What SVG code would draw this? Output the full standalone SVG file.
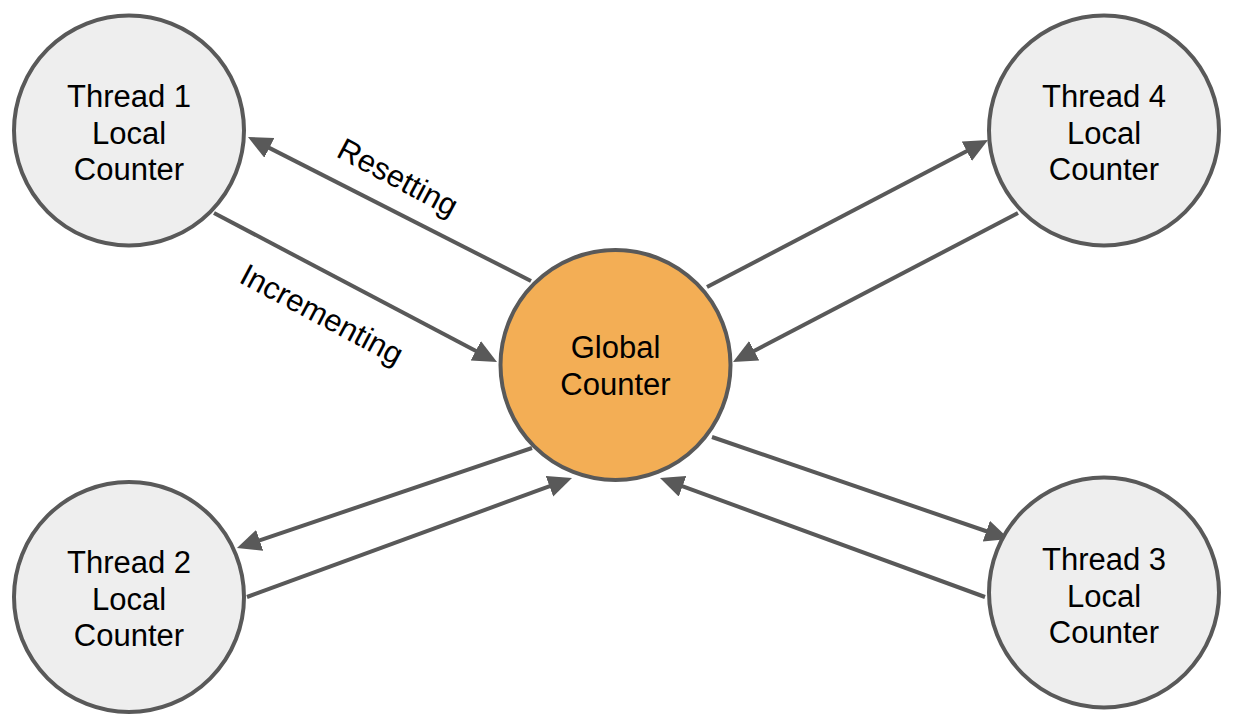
<svg xmlns="http://www.w3.org/2000/svg" width="1239" height="728" viewBox="0 0 1239 728">
  <style>
    .node { stroke: #595959; stroke-width: 4; }
    .local { fill: #eeeeee; }
    .global { fill: #f3ae55; }
    .txt { font-family: "Liberation Sans", Arial, sans-serif; font-size: 31px; fill: #000000; text-anchor: middle; }
    .edge { stroke: #595959; stroke-width: 4; fill: none; marker-end: url(#arrow); }
  </style>
  <defs>
    <marker id="arrow" markerUnits="userSpaceOnUse" markerWidth="26" markerHeight="24" refX="4" refY="11" orient="auto">
      <path d="M0,0 L24,11 L0,22 z" fill="#595959"/>
    </marker>
  </defs>
  <rect width="1239" height="728" fill="#ffffff"/>

  <g id="connectors">
    <line class="edge" x1="531" y1="281" x2="265.8" y2="146.1"/>
    <line class="edge" x1="214" y1="213" x2="479.3" y2="352.7"/>
    <line class="edge" x1="707" y1="287" x2="970.3" y2="149.3"/>
    <line class="edge" x1="1018" y1="213" x2="750.7" y2="352.7"/>
    <line class="edge" x1="532" y1="448" x2="255.9" y2="541.6"/>
    <line class="edge" x1="247" y1="597" x2="553.2" y2="484.9"/>
    <line class="edge" x1="712" y1="437" x2="990.1" y2="532.5"/>
    <line class="edge" x1="985" y1="597" x2="678.8" y2="484.9"/>
    <text class="txt" transform="translate(398,177) rotate(28)" x="0" y="11">Resetting</text>
    <text class="txt" transform="translate(322,314) rotate(28)" x="0" y="11">Incrementing</text>
  </g>

  <g id="thread1">
    <circle class="node local" cx="129" cy="130.5" r="115"/>
    <text class="txt" x="129" y="107">Thread 1</text>
    <text class="txt" x="129" y="143.5">Local</text>
    <text class="txt" x="129" y="180">Counter</text>
  </g>
  <g id="thread4">
    <circle class="node local" cx="1104" cy="130.5" r="115"/>
    <text class="txt" x="1104" y="107">Thread 4</text>
    <text class="txt" x="1104" y="143.5">Local</text>
    <text class="txt" x="1104" y="180">Counter</text>
  </g>
  <g id="thread2">
    <circle class="node local" cx="129" cy="597" r="115"/>
    <text class="txt" x="129" y="573">Thread 2</text>
    <text class="txt" x="129" y="609.5">Local</text>
    <text class="txt" x="129" y="646">Counter</text>
  </g>
  <g id="thread3">
    <circle class="node local" cx="1104" cy="592.5" r="115"/>
    <text class="txt" x="1104" y="570">Thread 3</text>
    <text class="txt" x="1104" y="606.5">Local</text>
    <text class="txt" x="1104" y="643">Counter</text>
  </g>
  <g id="global">
    <circle class="node global" cx="615.5" cy="365" r="115"/>
    <text class="txt" x="615.5" y="358">Global</text>
    <text class="txt" x="615.5" y="395">Counter</text>
  </g>
</svg>
